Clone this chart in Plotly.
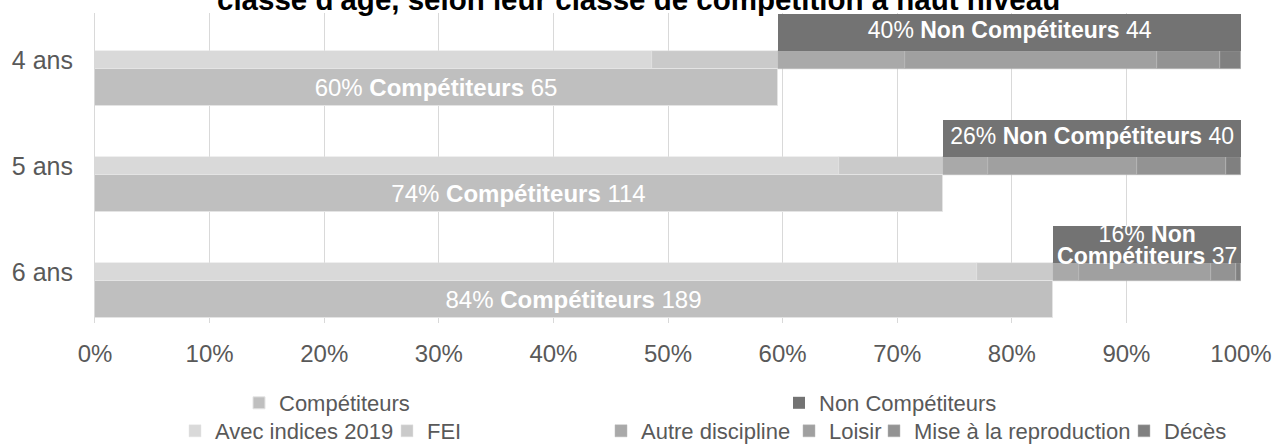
import plotly.graph_objects as go

# Age classes and horse counts per outcome
categories = ["4 ans", "5 ans", "6 ans"]
competiteurs = [65, 114, 189]
non_competiteurs = [44, 40, 37]

# Breakdown of competitors
avec_indices_2019 = [53, 100, 174]
fei = [12, 14, 15]

# Breakdown of non-competitors
autre_discipline = [12, 6, 5]
loisir = [24, 20, 26]
mise_reproduction = [6, 12, 5]
deces = [2, 2, 1]

x_ticks = [0, 0.1, 0.2, 0.3, 0.4, 0.5, 0.6, 0.7, 0.8, 0.9, 1.0]

FONT = "Liberation Sans, Arial, sans-serif"
GREY_TXT = "#595959"

totals = [c + n for c, n in zip(competiteurs, non_competiteurs)]
idx = list(range(len(categories)))


def share(values):
    return [v / t for v, t in zip(values, totals)]


OFF = 0.26      # vertical offset of the two main bars from the category centre
W_MAIN = 0.35   # thickness of main bars
W_THIN = 0.17   # thickness of breakdown bars

comp_share = share(competiteurs)
nc_share = share(non_competiteurs)

comp_text = [f"{round(p * 100)}% <b>Compétiteurs</b> {n}" for p, n in zip(comp_share, competiteurs)]

fig = go.Figure()

label_font = dict(family=FONT, size=24, color="white")
edge = dict(color="#E4E4E4", width=1)

# legend slots: (legend id, text start in px, row centre in px from top)
legend_slots = {
    "Compétiteurs": ("legend", 280, 403),
    "Non Compétiteurs": ("legend2", 820, 403),
    "Avec indices 2019": ("legend3", 216, 431),
    "FEI": ("legend4", 428, 431),
    "Autre discipline": ("legend5", 642, 431),
    "Loisir": ("legend6", 830, 431),
    "Mise à la reproduction": ("legend7", 915, 431),
    "Décès": ("legend8", 1165, 431),
}

# Competitor breakdown (thin bar)
comp_parts = [
    ("Avec indices 2019", avec_indices_2019, "#D9D9D9"),
    ("FEI", fei, "#CACACA"),
]
base = [0.0] * len(idx)
for name, vals, col in comp_parts:
    s = share(vals)
    fig.add_trace(go.Bar(
        orientation="h", name=name, legend=legend_slots[name][0],
        y=idx, x=s, base=list(base), width=W_THIN,
        marker=dict(color=col, line=dict(color="#E4E4E4", width=0.5)),
        hoverinfo="skip",
    ))
    base = [b + v for b, v in zip(base, s)]

# Non-competitor breakdown (thin bar)
nc_parts = [
    ("Autre discipline", autre_discipline, "#A9A9A9"),
    ("Loisir", loisir, "#A0A0A0"),
    ("Mise à la reproduction", mise_reproduction, "#939393"),
    ("Décès", deces, "#808080"),
]
base = list(comp_share)
for name, vals, col in nc_parts:
    s = share(vals)
    fig.add_trace(go.Bar(
        orientation="h", name=name, legend=legend_slots[name][0],
        y=idx, x=s, base=list(base), width=W_THIN,
        marker=dict(color=col, line=dict(color="#B8B8B8", width=0.5)),
        hoverinfo="skip",
    ))
    base = [b + v for b, v in zip(base, s)]

# Main bars
fig.add_trace(go.Bar(
    orientation="h", name="Compétiteurs", legend="legend",
    y=[i + OFF for i in idx], x=comp_share, base=[0] * len(idx), width=W_MAIN,
    marker=dict(color="#BFBFBF", line=edge),
    text=comp_text, textposition="inside", insidetextanchor="middle",
    textangle=0, constraintext="none", textfont=label_font,
    hoverinfo="skip",
))
fig.add_trace(go.Bar(
    orientation="h", name="Non Compétiteurs", legend="legend2",
    y=[i - OFF for i in idx], x=nc_share, base=comp_share, width=W_MAIN,
    marker=dict(color="#737373", line=dict(color="#737373", width=0)),
    hoverinfo="skip",
))

# Labels of the non-competitor bars (narrow bars get a two-line label)
lx, ly, lt = [], [], []
for i, (b, s, n) in enumerate(zip(comp_share, nc_share, non_competiteurs)):
    cx = b + s / 2
    pct = f"{round(s * 100)}%"
    if s < 0.2:
        lx += [cx, cx]
        ly += [i - OFF - 0.075, i - OFF + 0.13]
        lt += [f"{pct} <b>Non</b>", f"<b>Compétiteurs</b> {n}"]
    else:
        lx.append(cx)
        ly.append(i - OFF)
        lt.append(f"{pct} <b>Non Compétiteurs</b> {n}")
fig.add_trace(go.Scatter(
    x=lx, y=ly, text=lt, mode="text", textposition="middle center",
    textfont=dict(family=FONT, size=23, color="white"),
    showlegend=False, hoverinfo="skip", cliponaxis=False,
))

# Visible line of the title
fig.add_annotation(
    text="<b>classe d'âge, selon leur classe de compétition à haut niveau</b>",
    xref="paper", yref="paper", x=0.474, y=1.045,
    xanchor="center", yanchor="middle", showarrow=False,
    font=dict(family=FONT, size=29.5, color="#000000"),
)

legend_base = dict(
    orientation="h", xref="container", yref="container",
    xanchor="left", yanchor="middle", itemwidth=30,
    font=dict(family=FONT, size=22, color=GREY_TXT),
    bgcolor="rgba(0,0,0,0)", traceorder="normal",
)
legend_layout = {
    lid: dict(legend_base, x=(tx - 41) / 1284, y=(445 - ty) / 445)
    for lid, tx, ty in legend_slots.values()
}

fig.update_layout(
    width=1284, height=445, autosize=False,
    margin=dict(l=93, r=37, t=13, b=122),
    paper_bgcolor="white", plot_bgcolor="white",
    barmode="overlay", bargap=0,
    font=dict(family=FONT, color=GREY_TXT),
    showlegend=True,
    xaxis=dict(
        range=[0, 1], tickvals=x_ticks, tickformat=".0%",
        showgrid=True, gridcolor="#D9D9D9", gridwidth=1,
        zeroline=False, showline=False,
        tickfont=dict(family=FONT, size=24, color=GREY_TXT),
        ticklabelstandoff=14,
    ),
    yaxis=dict(
        range=[2.482, -0.443], tickvals=idx, ticktext=categories,
        showgrid=False, zeroline=False,
        showline=True, linecolor="#D9D9D9", linewidth=1,
        tickfont=dict(family=FONT, size=25, color=GREY_TXT),
        ticklabelstandoff=16,
    ),
    **legend_layout,
)

fig.write_html("out.html")
